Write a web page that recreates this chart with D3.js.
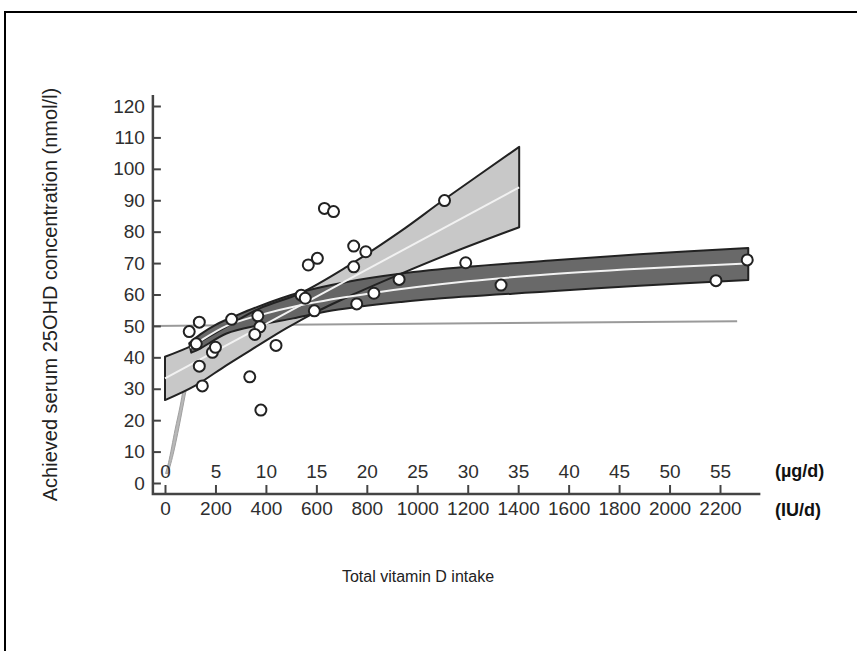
<!DOCTYPE html>
<html>
<head>
<meta charset="utf-8">
<script src="https://cdnjs.cloudflare.com/ajax/libs/d3/7.8.5/d3.min.js"></script>
<style>
	body { margin: 0; background: white; }
	#outer { width: 857px; height: 651px; }
</style>
</head>
<body>
<div id="outer"></div>
<script>

////////// Data (intake in µg/d, concentration in nmol/l) //////////
const intakeTicks = [0, 5, 10, 15, 20, 25, 30, 35, 40, 45, 50, 55];
const concTicks = [0, 10, 20, 30, 40, 50, 60, 70, 80, 90, 100, 110, 120];
const iuPerMicrogram = 40;

// study means
const pointIntake = [2.4, 3.4, 3.1, 3.4, 3.7, 4.7, 5.0, 6.6, 9.2, 9.4, 8.9, 8.4, 9.5, 11.0, 13.5, 13.9, 14.8,
	15.8, 16.7, 18.7, 19.9, 15.1, 14.2, 18.7, 27.7, 29.8, 23.2, 20.7, 19.0, 33.3, 57.7, 54.6];
const pointConc = [48.2, 51.2, 44.3, 37.2, 30.9, 41.6, 43.2, 52.1, 53.2, 49.7, 47.3, 33.8, 23.2, 43.8, 59.8, 58.8, 54.8,
	87.4, 86.4, 75.4, 73.6, 71.5, 69.4, 68.8, 89.9, 70.1, 64.8, 60.4, 57.0, 63.0, 71.0, 64.4];

// linear fit (light band)
const linearFit = [[0, 33.3], [35.1, 94.1]];
const linearUpper = [[0, 40.2], [2.8, 43.9], [6.1, 49.8], [9.4, 55.6], [13.4, 60.4], [18.0, 68.8], [23.3, 80.0], [27.7, 90.3], [35.1, 107]];
const linearLower = [[0, 26.4], [3, 31], [6, 37.3], [9, 43.3], [12, 49.2], [15, 54.5], [19, 60.5], [23.3, 66.5], [29, 74], [35.1, 81.4]];

// log fit (dark band)
const logFit = [[2.5, 43], [3.5, 45.2], [6.1, 50], [9.1, 53.2], [13.4, 56.6], [20.6, 60.5], [30, 64.2], [37.2, 66.2], [47, 68.2], [57.6, 69.9]];
const logUpper = [[2.4, 44.5], [3.5, 47.3], [5.1, 50.5], [6.7, 52.8], [9.1, 56], [13.4, 60.7], [18, 64], [23.3, 66.6], [29.9, 68.8], [38.2, 70.8], [47, 72.8], [57.8, 74.8]];
const logLower = [[2.6, 41.5], [3.5, 42.8], [6.1, 47.6], [9.4, 50.3], [12.7, 52.4], [16, 54.6], [19, 56.0], [23.3, 57.6], [26.6, 58.6], [38.2, 61.0], [47, 62.8], [57.8, 64.6]];
// log fit extended towards zero intake
const logTailLeft = [[0.05, 3], [0.35, 6.5], [1.0, 17], [1.5, 24.5], [2.15, 36], [2.5, 41], [2.8, 44]];
const logTailRight = [[3.0, 42], [2.6, 37], [2.0, 28], [1.4, 18], [0.8, 9], [0.3, 3]];

// 50 nmol/l reference
const referenceLine = [[-1.2, 50], [56.7, 51.5]];


function drawVitaminChart () {

	////////////////////////////////////////////////////////////////
		// Sizing & Styles
	////////////////////////////////////////////////////////////////
	const width = 857;
	const height = 651;
	const tickFont = '19px "Liberation Sans", Arial, sans-serif';
	const tickColor = '#2e2e2e';
	const axisColor = '#444';
	const outlineColor = '#222';
	const lightFill = '#c8c8c8';
	const darkFill = '#5c5c5c';

	const x = d3.scaleLinear().domain([0, 55]).range([165, 720]);
	const y = d3.scaleLinear().domain([0, 120]).range([483, 106]);

	const svg = d3.select('#outer').append('svg')
		.attr('width', width)
		.attr('height', height)
		.style('display', 'block');

	// frame
	svg.append('path')
		.attr('d', `M5,${height} L5,12 L${width},12`)
		.attr('fill', 'none')
		.attr('stroke', '#000')
		.attr('stroke-width', 2);

	const lineGen = d3.line()
		.x(d => x(d[0]))
		.y(d => y(d[1]))
		.curve(d3.curveCatmullRom.alpha(0.5));
	const bandPath = (upper, lower) => lineGen(upper) + 'L' + lineGen(lower.slice().reverse()).slice(1) + 'Z';

	// ********************************************* REFERENCE ******************************************************* //
	svg.append('path')
		.attr('d', d3.line().x(d => x(d[0])).y(d => y(d[1]))(referenceLine))
		.attr('stroke', '#9a9a9a')
		.attr('stroke-width', 2)
		.attr('fill', 'none');

	// ********************************************* BANDS ******************************************************* //
	const bands = svg.append('g').attr('class', 'bands');
	bands.append('path')
		.attr('d', bandPath(logTailLeft, logTailRight.slice().reverse()))
		.attr('fill', '#b8b8b8')
		.attr('stroke', '#a0a0a0')
		.attr('stroke-width', 1);
	bands.append('path')
		.attr('d', bandPath(linearUpper, linearLower))
		.attr('fill', lightFill);
	bands.append('path')
		.attr('d', bandPath(logUpper, logLower))
		.attr('fill', darkFill)
		.attr('fill-opacity', 0.92);

	// outlines on top so both edges stay visible where the bands overlap
	[[linearUpper, linearLower], [logUpper, logLower]].forEach(b => {
		bands.append('path')
			.attr('d', bandPath(b[0], b[1]))
			.attr('fill', 'none')
			.attr('stroke', outlineColor)
			.attr('stroke-width', 2)
			.attr('stroke-linejoin', 'round');
	});
	[linearFit, logFit].forEach(f => {
		bands.append('path')
			.attr('d', lineGen(f))
			.attr('fill', 'none')
			.attr('stroke', '#f2f2f2')
			.attr('stroke-width', 2);
	});

	// ********************************************* AXES ******************************************************* //
	const yAxis = svg.append('g')
		.attr('transform', `translate(${x(-1.2)},0)`)
		.call(d3.axisLeft(y).tickValues(concTicks).tickSizeInner(-8).tickSizeOuter(0).tickPadding(8));
	yAxis.select('.domain').remove();

	const xTop = svg.append('g')
		.attr('transform', `translate(0,${y(-3.5)})`)
		.call(d3.axisTop(x).tickValues(intakeTicks).tickSizeInner(9).tickSizeOuter(0).tickPadding(7));
	xTop.select('.domain').remove();

	const xBottom = svg.append('g')
		.attr('transform', `translate(0,${y(-3.5)})`)
		.call(d3.axisBottom(x).tickValues(intakeTicks).tickSize(0).tickPadding(8).tickFormat(d => d * iuPerMicrogram));
	xBottom.select('.domain').remove();

	svg.selectAll('.tick line').attr('stroke', axisColor).attr('stroke-width', 2);
	svg.selectAll('.tick text').style('font', tickFont).attr('fill', tickColor);

	// axis lines
	svg.append('path')
		.attr('d', `M${x(-1.2)},${y(123.5)} L${x(-1.2)},${y(-3.5)} L${x(59)},${y(-3.5)}`)
		.attr('fill', 'none')
		.attr('stroke', axisColor)
		.attr('stroke-width', 2.5);

	// ********************************************* POINTS ******************************************************* //
	svg.append('g').selectAll('circle')
		.data(pointIntake.map((d, i) => [d, pointConc[i]]))
		.join('circle')
		.attr('cx', d => x(d[0]))
		.attr('cy', d => y(d[1]))
		.attr('r', 5.5)
		.attr('fill', 'white')
		.attr('stroke', outlineColor)
		.attr('stroke-width', 2);

	// ********************************************* LABELS ******************************************************* //
	const unitFont = 'bold 18px "Liberation Sans", Arial, sans-serif';
	svg.append('text')
		.attr('x', 775).attr('y', y(-3.5) - 17)
		.style('font', unitFont)
		.attr('fill', '#111')
		.text('(µg/d)');
	svg.append('text')
		.attr('x', 775).attr('y', y(-3.5) + 22)
		.style('font', unitFont)
		.attr('fill', '#111')
		.text('(IU/d)');

	svg.append('text')
		.attr('transform', `translate(57,${(y(-3.5) + y(123.5)) / 2}) rotate(-90)`)
		.attr('text-anchor', 'middle')
		.style('font', '20px "Liberation Sans", Arial, sans-serif')
		.attr('fill', '#222')
		.text('Achieved serum 25OHD concentration (nmol/l)');

	svg.append('text')
		.attr('x', 418).attr('y', 582)
		.attr('text-anchor', 'middle')
		.style('font', '16px "Liberation Sans", Arial, sans-serif')
		.attr('fill', '#222')
		.text('Total vitamin D intake');
}

drawVitaminChart();
</script>
</body>
</html>
